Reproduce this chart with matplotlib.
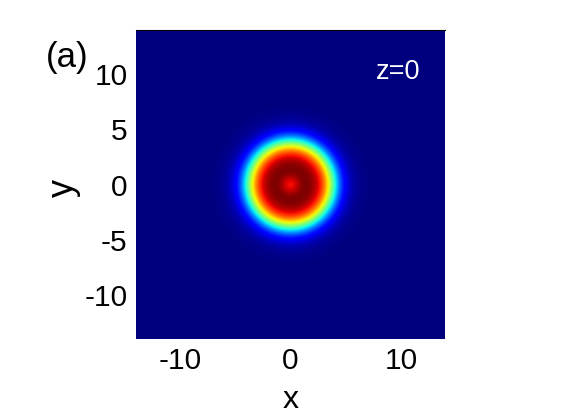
import numpy as np
import matplotlib
matplotlib.use("Agg")
import matplotlib.pyplot as plt

# Field parameters
half_width = 14.0          # domain half-size
n_grid = 281
edge_radius = 3.75         # radius where the profile falls to half
edge_width = 0.6           # softness of the edge
dip_depth = 0.13           # central dip depth
dip_radius = 0.85
panel_label = "(a)"
z_label = "z=0"
x_ticks = [-10, 0, 10]
y_ticks = [-10, -5, 0, 5, 10]

x_vals = np.linspace(-half_width, half_width, n_grid)
y_vals = np.linspace(-half_width, half_width, n_grid)
X, Y = np.meshgrid(x_vals, y_vals)
R = np.hypot(X, Y)
field = (1.0 / (1.0 + np.exp((R - edge_radius) / edge_width))) * \
        (1 - dip_depth * np.exp(-(R / dip_radius) ** 2))
field = field / field.max()

plt.rcParams['font.family'] = ['Liberation Sans', 'DejaVu Sans']
plt.rcParams['axes.unicode_minus'] = False
fig = plt.figure(figsize=(5.61, 4.20), dpi=100)
ax = fig.add_axes([136 / 561, 1 - 339 / 420, 309 / 561, 309 / 420])
ax.imshow(field, cmap='jet', origin='lower', extent=[-half_width, half_width, -half_width, half_width],
          interpolation='bilinear', vmin=0, vmax=1, aspect='auto')
ax.set_xlim(-half_width, half_width)
ax.set_ylim(-half_width, half_width)
ax.set_xticks(x_ticks)
ax.set_yticks(y_ticks)
ax.tick_params(length=0, labelsize=21.5, pad=6)
for name, s in ax.spines.items():
    s.set_visible(name == 'top')
ax.spines['top'].set_linewidth(0.8)
ax.spines['top'].set_color('black')
ax.set_xlabel('x', fontsize=23)
ax.xaxis.set_label_coords(0.5, -0.149)
ax.set_ylabel('y', fontsize=26)
ax.yaxis.set_label_coords(-0.178, 0.49)
ax.text(0.848, 0.864, z_label, transform=ax.transAxes, color='white', fontsize=19.5,
        ha='center', va='center')
fig.text(67 / 561, 1 - 58 / 420, panel_label, fontsize=25, ha='center', va='center')
fig.savefig('out.png', dpi=100)
